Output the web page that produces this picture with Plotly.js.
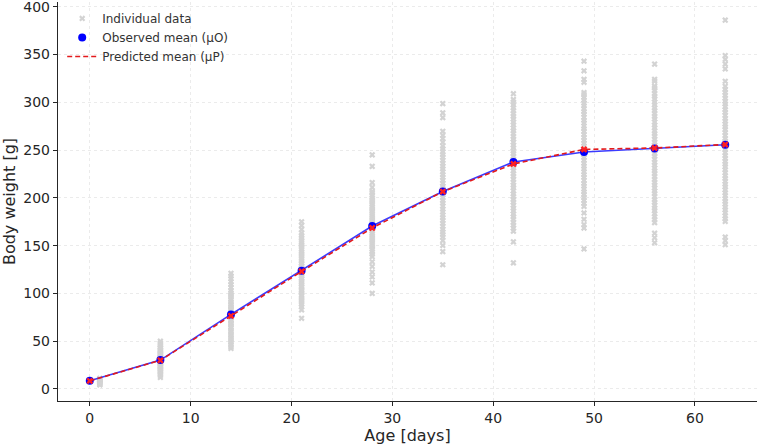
<!DOCTYPE html>
<html>
<head>
<meta charset="utf-8">
<script src="https://cdn.plot.ly/plotly-3.0.1.min.js"></script>
<style>
  html, body { margin: 0; padding: 0; background: #fff; }
  #chart { width: 760px; height: 446px; }
</style>
</head>
<body>
<div id="chart"></div>
<script>
// Growth curve: individual body weights per age, observed vs predicted mean.

const AGES = [0, 7, 14, 21, 28, 35, 42, 49, 56, 63];
const OBS_MEAN = [8.5, 30.2, 78, 123.8, 170.5, 206.7, 237.5, 248, 251.8, 255.6];
const PRED_MEAN = [8.5, 30, 76.5, 123, 168.5, 206.5, 235.5, 250.7, 252.2, 255.8];

// day-0 weights sit at x=1 in the reference
const IND_AGES = [1, 7, 14, 21, 28, 35, 42, 49, 56, 63];
const IND_WEIGHTS = [
  [4.2, 5.1, 5.8, 6.4, 7.2, 7.9, 8.6, 9.1, 9.8, 10.4, 11.1],
  [12, 14.2, 15.5, 17.1, 18.3, 19.6, 21, 22.2, 23.4, 24.1, 25.6, 26.3, 27.2, 28.5,
   29.3, 30.4, 31.2, 32.6, 33.4, 34.2, 35.7, 36.5, 37.3, 38.6, 40.1, 41.2, 42.7, 44.1,
   46.2, 48.1, 50],
  [42.4, 44.3, 46.6, 49.1, 51.2, 53.4, 55.7, 57.2, 59.4, 61.3, 63.6, 65.2, 67.4, 69.1,
   70.8, 72.3, 74.2, 75.6, 77.3, 78.7, 80.2, 82.4, 83.7, 85.3, 87.4, 89.2, 91.3, 93.7,
   96.2, 98.4, 100.6, 103.1, 106.2, 109.3, 112.1, 115.4, 118.2, 121],
  [74, 82.8, 86.1, 88.6, 91.3, 93.2, 95.4, 97.7, 100.2, 102.3, 104.1, 106.6, 108.3, 110.2,
   112.4, 114.7, 116.3, 118.2, 120.4, 122.1, 124.3, 126.2, 128.6, 130.4, 132.1, 134.3,
   136.7, 139.2, 141.3, 143.6, 146.1, 148.4, 150.7, 153.2, 155.4, 158.1, 160.6, 163.2,
   167, 171.2, 175],
  [100, 111, 117.3, 122.4, 128.2, 133.1, 138.5, 141.2, 143.6, 146.3, 148.7, 151.1, 153.4,
   155.6, 158.2, 160.3, 162.7, 165.1, 167.4, 169.6, 172.2, 174.3, 176.6, 179.2, 181.4,
   183.7, 186.1, 188.3, 190.6, 193.2, 195.4, 197.7, 200.1, 202.6, 205.2, 206.7, 211, 216,
   233, 245],
  [130, 143.8, 150.2, 155.3, 159.1, 161.6, 164.3, 167.1, 170.4, 173.2, 176.6, 179.3, 182.1,
   185.4, 188.2, 191.3, 194.6, 197.2, 200.4, 203.1, 206.3, 209.6, 212.2, 215.4, 218.3,
   221.6, 224.2, 227.4, 230.3, 233.1, 236.4, 239.2, 242.6, 245.3, 248.1, 251.4, 254.2,
   258.3, 262.1, 265.6, 269.7, 284, 289, 298.7],
  [132, 154, 165.2, 168.3, 171.4, 174.2, 177.6, 180.3, 183.1, 186.4, 189.2, 192.3, 195.6,
   198.2, 201.4, 204.1, 207.3, 210.6, 213.2, 216.4, 219.3, 222.6, 225.2, 228.4, 231.3,
   234.1, 237.4, 240.2, 243.6, 246.3, 249.1, 252.4, 255.2, 258.3, 261.6, 264.2, 267.4,
   270.3, 273.1, 276.4, 279.2, 282.6, 285.3, 288.1, 291.4, 294.2, 297.3, 300.1, 303, 309],
  [146.6, 168.4, 172.1, 177.6, 184.2, 191.1, 194.3, 197.2, 200.4, 203.6, 206.2, 209.3,
   212.4, 215.1, 218.3, 221.6, 224.2, 227.4, 230.3, 233.1, 236.4, 239.2, 242.6, 245.3,
   248.1, 251.4, 254.2, 257.3, 260.1, 263.4, 266.2, 269.6, 272.3, 275.1, 278.4, 281.2,
   284.3, 287.6, 290.2, 293.4, 296.3, 299.1, 302.4, 305.2, 308.1, 310.2, 321, 324, 333,
   343],
  [153, 158.2, 163, 174.1, 177.3, 180.2, 183.4, 186.6, 189.2, 192.3, 195.4, 198.1, 201.3,
   204.6, 207.2, 210.4, 213.3, 216.1, 219.4, 222.2, 225.6, 228.3, 231.1, 234.4, 237.2,
   240.3, 243.6, 246.2, 249.4, 252.3, 255.1, 258.4, 261.2, 264.6, 267.3, 270.1, 273.4,
   276.2, 279.3, 282.6, 285.2, 288.4, 291.3, 294.1, 297.4, 300.2, 303.6, 306.3, 309.1,
   312.4, 315.2, 317, 322, 324, 340],
  [151, 155.2, 159, 175.3, 178.1, 181.2, 184.3, 187.4, 190.2, 193.6, 196.3, 199.1, 202.4,
   205.2, 208.3, 211.6, 214.2, 217.4, 220.3, 223.1, 226.4, 229.2, 232.6, 235.3, 238.1,
   241.4, 244.2, 247.3, 250.6, 253.2, 256.4, 259.3, 262.1, 265.4, 268.2, 271.6, 274.3,
   277.1, 280.4, 283.2, 286.3, 289.6, 292.2, 295.4, 298.3, 301.1, 304.4, 307.2, 310.6,
   313.3, 316.8, 322, 335, 340, 345, 349, 386],
];

const FONT = "DejaVu Sans, Liberation Sans, sans-serif";
const INK = "#262626";

const indX = [];
const indY = [];
IND_WEIGHTS.forEach((arr, i) => {
  for (const w of arr) {
    indX.push(IND_AGES[i]);
    indY.push(w);
  }
});

const traces = [
  {
    x: indX,
    y: indY,
    type: "scatter",
    mode: "markers",
    name: "Individual data",
    marker: { symbol: "x", size: 5.5, color: "#d3d3d3", line: { width: 0 } },
  },
  {
    x: AGES,
    y: OBS_MEAN,
    type: "scatter",
    mode: "lines",
    line: { color: "#3b3bff", width: 1.6 },
    showlegend: false,
    hoverinfo: "skip",
  },
  {
    x: AGES,
    y: OBS_MEAN,
    type: "scatter",
    mode: "markers",
    name: "Observed mean (μO)",
    marker: { symbol: "circle", size: 8, color: "#0000ff" },
  },
  {
    x: AGES,
    y: PRED_MEAN,
    type: "scatter",
    mode: "lines",
    name: "Predicted mean (μP)",
    line: { color: "#e31a1c", width: 1.6, dash: "5px,3px" },
  },
  {
    x: AGES,
    y: PRED_MEAN,
    type: "scatter",
    mode: "markers",
    marker: { symbol: "x", size: 6, color: "#ff2020", line: { width: 0 } },
    showlegend: false,
    hoverinfo: "skip",
  },
];

const axisBase = {
  showline: true,
  linecolor: INK,
  linewidth: 1.2,
  ticks: "outside",
  ticklen: 4,
  tickwidth: 1,
  tickcolor: INK,
  showgrid: true,
  gridcolor: "#ebebeb",
  gridwidth: 1,
  griddash: "dot",
  zeroline: false,
  ticklabeloverflow: "allow",
  tickfont: { family: FONT, size: 14, color: INK },
};

const layout = {
  width: 760,
  height: 446,
  margin: { l: 58, r: 3, t: 2, b: 45 },
  paper_bgcolor: "#fff",
  plot_bgcolor: "#fff",
  font: { family: FONT, color: INK },
  showlegend: true,
  legend: {
    x: 0.006,
    y: 0.995,
    xanchor: "left",
    yanchor: "top",
    bgcolor: "rgba(0,0,0,0)",
    font: { family: FONT, size: 12, color: "#333" },
    tracegroupgap: 0,
  },
  xaxis: {
    ...axisBase,
    range: [-3.15, 66.15],
    tick0: 0,
    dtick: 10,
    title: { text: "Age [days]", font: { family: FONT, size: 16, color: INK }, standoff: 0 },
  },
  yaxis: {
    ...axisBase,
    range: [-12.6, 405],
    tick0: 0,
    dtick: 50,
    title: { text: "Body weight [g]", font: { family: FONT, size: 16, color: INK }, standoff: 6 },
  },
};

Plotly.newPlot("chart", traces, layout, { displayModeBar: false, staticPlot: true });
</script>
</body>
</html>
